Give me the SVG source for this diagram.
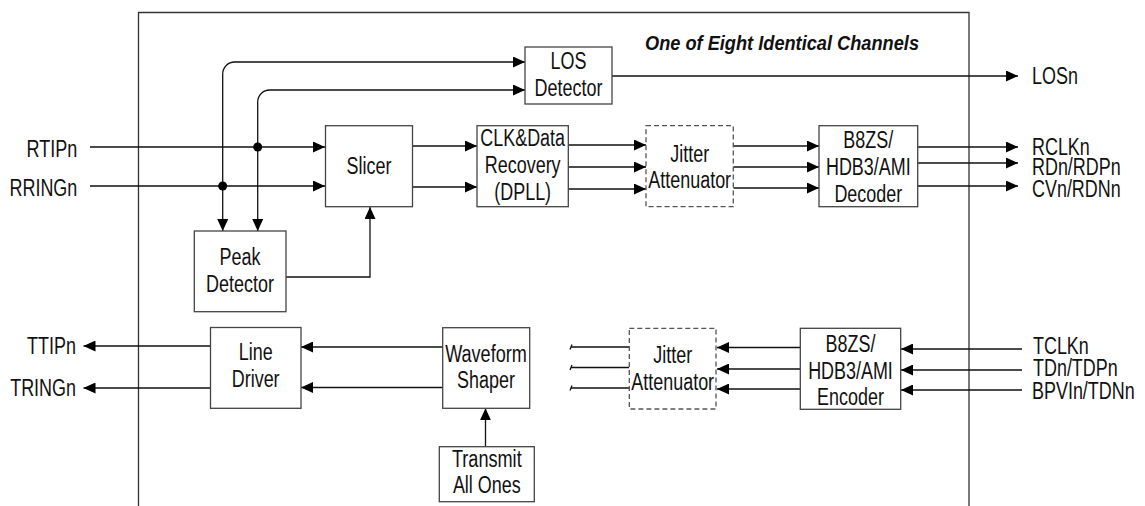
<svg xmlns="http://www.w3.org/2000/svg" width="1145" height="506" viewBox="0 0 1145 506">
<defs>
<marker id="arr" viewBox="0 0 12 11" refX="12" refY="5.5" markerWidth="12" markerHeight="11" markerUnits="userSpaceOnUse" orient="auto"><path d="M0,0 L12,5.5 L0,11 z" fill="#000"/></marker>
</defs>
<style>
.box{fill:#fff;stroke:#444;stroke-width:1.3}
.dash{fill:#fff;stroke:#555;stroke-width:1.3;stroke-dasharray:5,3}
.ln{fill:none;stroke:#111;stroke-width:1.3}
.a{marker-end:url(#arr)}
.t{font-family:"Liberation Sans",Arial,sans-serif;font-size:23px;fill:#111}
.c{text-anchor:middle}
.e{text-anchor:end}
.title{font-family:"Liberation Sans",Arial,sans-serif;font-size:21px;font-weight:bold;font-style:italic;fill:#111}
</style>
<rect width="1145" height="506" fill="#fff"/>
<path id="frame" d="M138.5,507 V12.5 H969 V507" fill="none" stroke="#333" stroke-width="1.3"/>
<text class="title" x="645" y="50" textLength="274" lengthAdjust="spacingAndGlyphs">One of Eight Identical Channels</text>

<g id="connectors">
<path class="ln a" d="M90,147 H325"/>
<path class="ln a" d="M90,186 H325"/>
<path class="ln a" d="M222.7,186 V74 A12,12 0 0 1 234.7,62 H525"/>
<path class="ln a" d="M222.7,186 V231"/>
<path class="ln a" d="M257.7,147 V102 A12,12 0 0 1 269.7,90 H525"/>
<path class="ln a" d="M257.7,147 V231"/>
<circle cx="257.7" cy="147" r="4.5" fill="#000"/>
<circle cx="222.7" cy="186" r="4.5" fill="#000"/>
<path class="ln a" d="M286,277 H370 V207"/>
<path class="ln a" d="M412.7,146 H477"/>
<path class="ln a" d="M412.7,187 H477"/>
<path class="ln a" d="M568.3,145 H646"/>
<path class="ln a" d="M568.3,167 H646"/>
<path class="ln a" d="M568.3,189 H646"/>
<path class="ln a" d="M733.3,146 H819"/>
<path class="ln a" d="M733.3,167 H819"/>
<path class="ln a" d="M733.3,188 H819"/>
<path class="ln a" d="M917.7,147 H1018"/>
<path class="ln a" d="M917.7,163 H1018"/>
<path class="ln a" d="M917.7,186 H1018"/>
<path class="ln a" d="M612,76 H1018"/>
<path class="ln a" d="M1022,349 H901"/>
<path class="ln a" d="M1022,370 H901"/>
<path class="ln a" d="M1022,390 H901"/>
<path class="ln a" d="M800.3,347.5 H717"/>
<path class="ln a" d="M800.3,369 H717"/>
<path class="ln a" d="M800.3,389 H717"/>
<path class="ln" d="M629.3,347 H570.5 M570,349.5 L572,344.5"/>
<path class="ln" d="M629.3,367.5 H570.5 M570,370 L572,365"/>
<path class="ln" d="M629.3,388 H570.5 M570,390.5 L572,385.5"/>
<path class="ln a" d="M442.7,347 H301"/>
<path class="ln a" d="M442.7,387.5 H301"/>
<path class="ln a" d="M210.5,346 H83.5"/>
<path class="ln a" d="M210.5,388 H83.5"/>
<path class="ln a" d="M485.5,446.7 V408.3"/>
</g>

<g id="los">
<rect class="box" x="525" y="47" width="87" height="57"/>
<text class="t c" x="568.5" y="69" textLength="35.9" lengthAdjust="spacingAndGlyphs">LOS</text>
<text class="t c" x="568.5" y="96" textLength="67.8" lengthAdjust="spacingAndGlyphs">Detector</text>
</g>
<g id="slicer">
<rect class="box" x="325.5" y="125.7" width="87" height="81"/>
<text class="t c" x="369" y="174" textLength="44.9" lengthAdjust="spacingAndGlyphs">Slicer</text>
</g>
<g id="cdr">
<rect class="box" x="477" y="125.7" width="91.3" height="81"/>
<text class="t c" x="522.7" y="145.7" textLength="84.7" lengthAdjust="spacingAndGlyphs">CLK&amp;Data</text>
<text class="t c" x="522.7" y="173.3" textLength="75.8" lengthAdjust="spacingAndGlyphs">Recovery</text>
<text class="t c" x="522.7" y="200" textLength="56.8" lengthAdjust="spacingAndGlyphs">(DPLL)</text>
</g>
<g id="jitter-rx">
<rect class="dash" x="646" y="125.7" width="87.3" height="81"/>
<text class="t c" x="689.7" y="161.7" textLength="38.9" lengthAdjust="spacingAndGlyphs">Jitter</text>
<text class="t c" x="689.7" y="188.3" textLength="82.8" lengthAdjust="spacingAndGlyphs">Attenuator</text>
</g>
<g id="decoder">
<rect class="box" x="819" y="125.7" width="98.7" height="81"/>
<text class="t c" x="868.3" y="147.7" textLength="49.9" lengthAdjust="spacingAndGlyphs">B8ZS/</text>
<text class="t c" x="868.3" y="175" textLength="84.7" lengthAdjust="spacingAndGlyphs">HDB3/AMI</text>
<text class="t c" x="868.3" y="201.7" textLength="67.8" lengthAdjust="spacingAndGlyphs">Decoder</text>
</g>
<g id="peak">
<rect class="box" x="194.3" y="231" width="91.7" height="80.7"/>
<text class="t c" x="240" y="265" textLength="40.9" lengthAdjust="spacingAndGlyphs">Peak</text>
<text class="t c" x="240" y="291.7" textLength="67.8" lengthAdjust="spacingAndGlyphs">Detector</text>
</g>
<g id="line-driver">
<rect class="box" x="210.5" y="327.5" width="90.5" height="80.8"/>
<text class="t c" x="255.7" y="360" textLength="33.9" lengthAdjust="spacingAndGlyphs">Line</text>
<text class="t c" x="255.7" y="386.7" textLength="47.8" lengthAdjust="spacingAndGlyphs">Driver</text>
</g>
<g id="waveform">
<rect class="box" x="442.7" y="327.7" width="87" height="80.6"/>
<text class="t c" x="486" y="361.7" textLength="81.7" lengthAdjust="spacingAndGlyphs">Waveform</text>
<text class="t c" x="486" y="388.3" textLength="57.8" lengthAdjust="spacingAndGlyphs">Shaper</text>
</g>
<g id="tao">
<rect class="box" x="439.3" y="446.7" width="95" height="55"/>
<text class="t c" x="486.8" y="467.3" textLength="69.8" lengthAdjust="spacingAndGlyphs">Transmit</text>
<text class="t c" x="486.8" y="493.3" textLength="67.8" lengthAdjust="spacingAndGlyphs">All Ones</text>
</g>
<g id="jitter-tx">
<rect class="dash" x="629.3" y="328.3" width="86.7" height="80.7"/>
<text class="t c" x="672.7" y="363.3" textLength="38.9" lengthAdjust="spacingAndGlyphs">Jitter</text>
<text class="t c" x="672.7" y="390" textLength="82.8" lengthAdjust="spacingAndGlyphs">Attenuator</text>
</g>
<g id="encoder">
<rect class="box" x="800.3" y="328.3" width="100.4" height="81"/>
<text class="t c" x="850.5" y="351.7" textLength="49.9" lengthAdjust="spacingAndGlyphs">B8ZS/</text>
<text class="t c" x="850.5" y="379" textLength="84.7" lengthAdjust="spacingAndGlyphs">HDB3/AMI</text>
<text class="t c" x="850.5" y="404.5" textLength="66.8" lengthAdjust="spacingAndGlyphs">Encoder</text>
</g>

<g id="pins">
<text class="t e" x="77.3" y="157" textLength="50.8" lengthAdjust="spacingAndGlyphs">RTIPn</text>
<text class="t e" x="77.3" y="196" textLength="67.8" lengthAdjust="spacingAndGlyphs">RRINGn</text>
<text class="t e" x="76" y="354" textLength="48.9" lengthAdjust="spacingAndGlyphs">TTIPn</text>
<text class="t e" x="76" y="396" textLength="65.8" lengthAdjust="spacingAndGlyphs">TRINGn</text>
<text class="t" x="1032" y="83.5" textLength="45.9" lengthAdjust="spacingAndGlyphs">LOSn</text>
<text class="t" x="1032" y="154.5" textLength="57.8" lengthAdjust="spacingAndGlyphs">RCLKn</text>
<text class="t" x="1032" y="175" textLength="88.7" lengthAdjust="spacingAndGlyphs">RDn/RDPn</text>
<text class="t" x="1032" y="197" textLength="88.7" lengthAdjust="spacingAndGlyphs">CVn/RDNn</text>
<text class="t" x="1033" y="353.5" textLength="55.8" lengthAdjust="spacingAndGlyphs">TCLKn</text>
<text class="t" x="1033" y="376" textLength="84.7" lengthAdjust="spacingAndGlyphs">TDn/TDPn</text>
<text class="t" x="1032" y="399" textLength="102.7" lengthAdjust="spacingAndGlyphs">BPVIn/TDNn</text>
</g>
</svg>
